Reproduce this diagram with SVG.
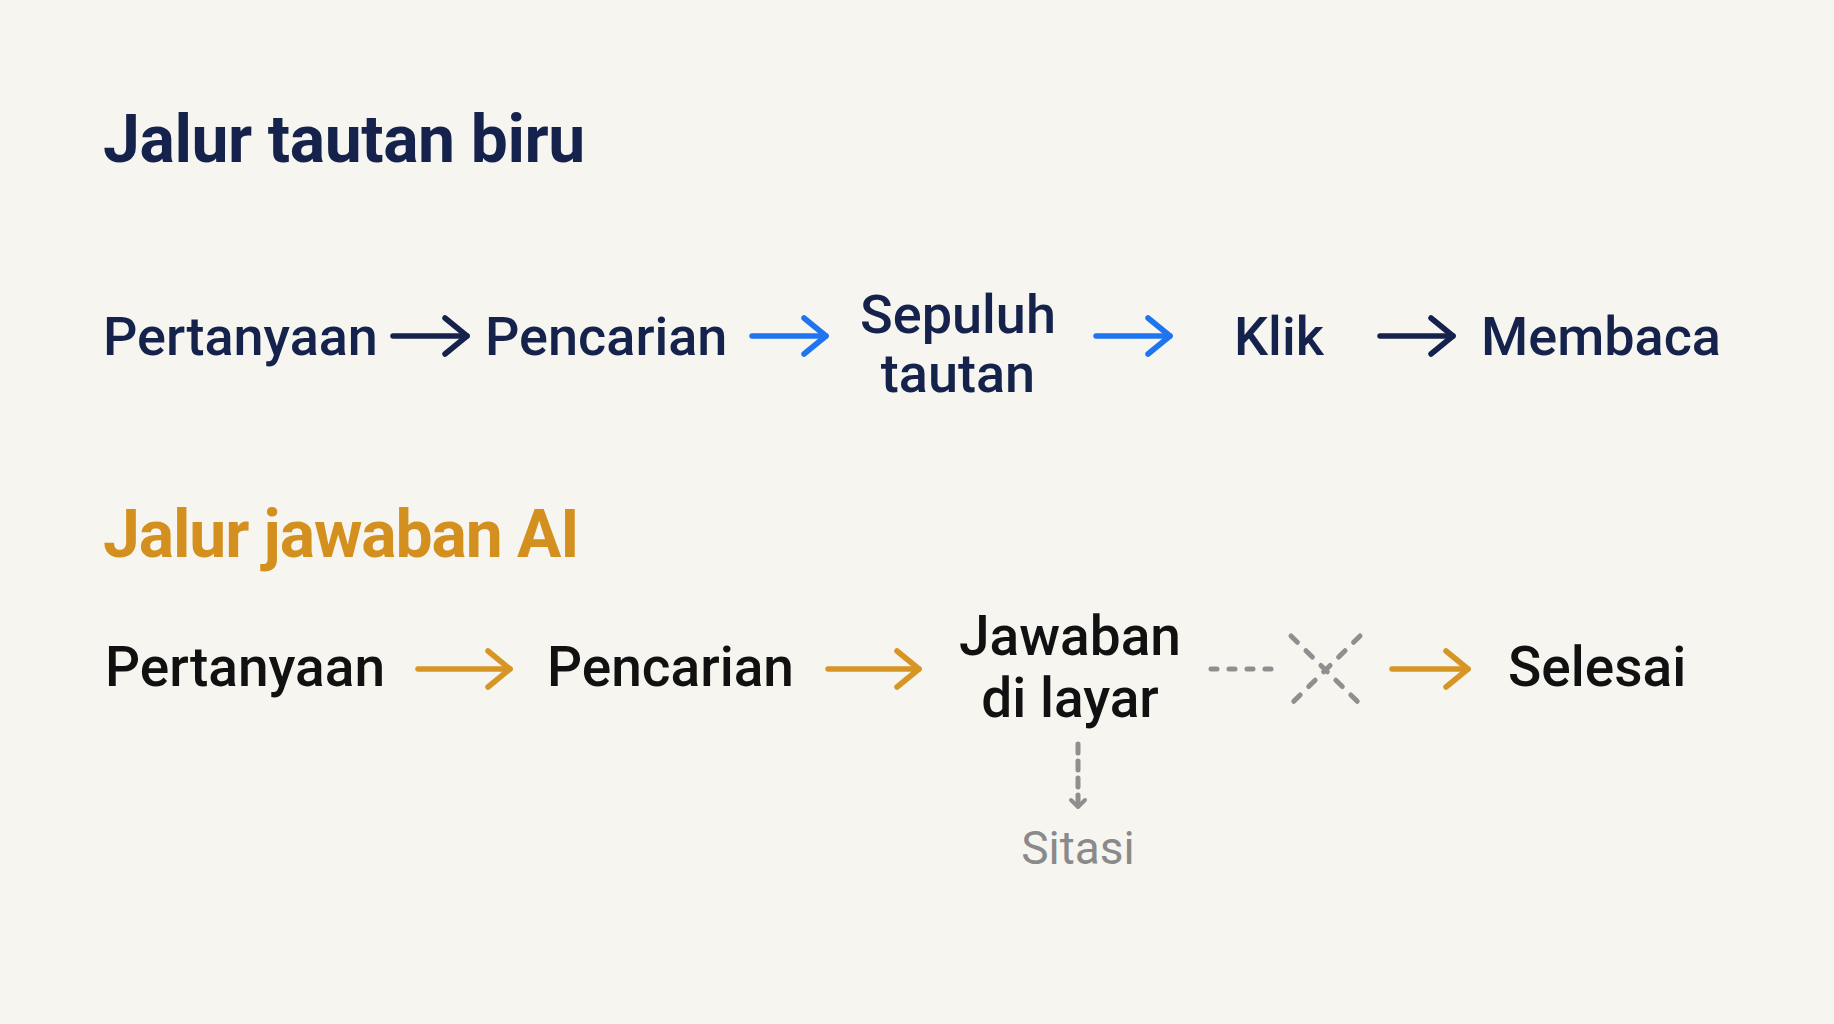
<svg xmlns="http://www.w3.org/2000/svg" width="1834" height="1024" viewBox="0 0 1834 1024">
<defs>
<style>
.title{font-family:Roboto,"Liberation Sans",sans-serif;font-weight:700;font-size:66px}
.n{font-family:Roboto,"Liberation Sans",sans-serif;font-weight:500;font-size:54px}
.n2{font-family:Roboto,"Liberation Sans",sans-serif;font-weight:500;font-size:55px}
.navy{fill:#14224c}
.blk{fill:#111111}
.org{fill:#d4901f}
.cite{font-family:Roboto,"Liberation Sans",sans-serif;font-weight:400;font-size:46px;fill:#8a8a8a}
.a{fill:none;stroke-width:5.5;stroke-linecap:round;stroke-linejoin:round}
.an{stroke:#14224c}
.ab{stroke:#1f74ef}
.ao{stroke:#d69524}
.g{fill:none;stroke:#8f8f8f;stroke-width:5;stroke-linecap:round}
</style>
<marker id="hn" markerUnits="userSpaceOnUse" viewBox="-26 -22 30 44" refX="0" refY="0" markerWidth="30" markerHeight="44" orient="auto" overflow="visible">
<path d="M-22,-18 L0,0 L-22,18" fill="none" stroke="#14224c" stroke-width="5.5" stroke-linecap="round" stroke-linejoin="round"/>
</marker>
<marker id="hb" markerUnits="userSpaceOnUse" viewBox="-26 -22 30 44" refX="0" refY="0" markerWidth="30" markerHeight="44" orient="auto" overflow="visible">
<path d="M-22,-18 L0,0 L-22,18" fill="none" stroke="#1f74ef" stroke-width="5.5" stroke-linecap="round" stroke-linejoin="round"/>
</marker>
<marker id="ho" markerUnits="userSpaceOnUse" viewBox="-26 -22 30 44" refX="0" refY="0" markerWidth="30" markerHeight="44" orient="auto" overflow="visible">
<path d="M-22,-18 L0,0 L-22,18" fill="none" stroke="#d69524" stroke-width="5.5" stroke-linecap="round" stroke-linejoin="round"/>
</marker>
<marker id="hg" markerUnits="userSpaceOnUse" viewBox="-10 -10 14 20" refX="0" refY="0" markerWidth="14" markerHeight="20" orient="auto" overflow="visible">
<path d="M-7,-7 L0,0 L-7,7" fill="none" stroke="#8f8f8f" stroke-width="4" stroke-linecap="round" stroke-linejoin="round"/>
</marker>
</defs>
<rect width="1834" height="1024" fill="#f6f5f0"/>

<g id="title-blue"><text class="title navy" x="103" y="162" letter-spacing="-0.4">Jalur tautan biru</text></g>
<g id="title-ai"><text class="title org" x="103" y="557" letter-spacing="-1.1">Jalur jawaban AI</text></g>

<g id="b-pertanyaan"><text class="n navy" x="103" y="355">Pertanyaan</text></g>
<g id="b-pencarian"><text class="n navy" x="485" y="355">Pencarian</text></g>
<g id="b-sepuluh"><text class="n navy" text-anchor="middle" x="958" y="333">Sepuluh</text><text class="n navy" text-anchor="middle" x="958" y="392">tautan</text></g>
<g id="b-klik"><text class="n navy" x="1234" y="355">Klik</text></g>
<g id="b-membaca"><text class="n navy" x="1481" y="355">Membaca</text></g>

<g id="a-pertanyaan"><text class="n2 blk" x="105" y="686">Pertanyaan</text></g>
<g id="a-pencarian"><text class="n2 blk" x="547" y="686">Pencarian</text></g>
<g id="a-jawaban"><text class="n2 blk" text-anchor="middle" x="1070" y="655">Jawaban</text><text class="n2 blk" text-anchor="middle" x="1070" y="717">di layar</text></g>
<g id="a-selesai"><text class="n2 blk" x="1508" y="686">Selesai</text></g>
<g id="a-sitasi"><text class="cite" text-anchor="middle" x="1078" y="864">Sitasi</text></g>

<g id="connectors">
<line class="a an" x1="393" y1="336" x2="467" y2="336" marker-end="url(#hn)"/>
<line class="a ab" x1="752" y1="336" x2="826" y2="336" marker-end="url(#hb)"/>
<line class="a ab" x1="1096" y1="336" x2="1170" y2="336" marker-end="url(#hb)"/>
<line class="a an" x1="1380" y1="336" x2="1453" y2="336" marker-end="url(#hn)"/>

<line class="a ao" x1="418" y1="669" x2="510" y2="669" marker-end="url(#ho)"/>
<line class="a ao" x1="828" y1="669" x2="919" y2="669" marker-end="url(#ho)"/>
<line class="a ao" x1="1392" y1="669" x2="1468" y2="669" marker-end="url(#ho)"/>

<line class="g" x1="1211" y1="669" x2="1271" y2="669" stroke-dasharray="6 12"/>
<line class="g" x1="1291" y1="636" x2="1360" y2="704" stroke-dasharray="9 12"/>
<line class="g" x1="1360" y1="636" x2="1291" y2="704" stroke-dasharray="9 12"/>
<line class="g" x1="1078" y1="744" x2="1078" y2="807" stroke-width="4" stroke-dasharray="9 8" marker-end="url(#hg)"/>
</g>
</svg>
